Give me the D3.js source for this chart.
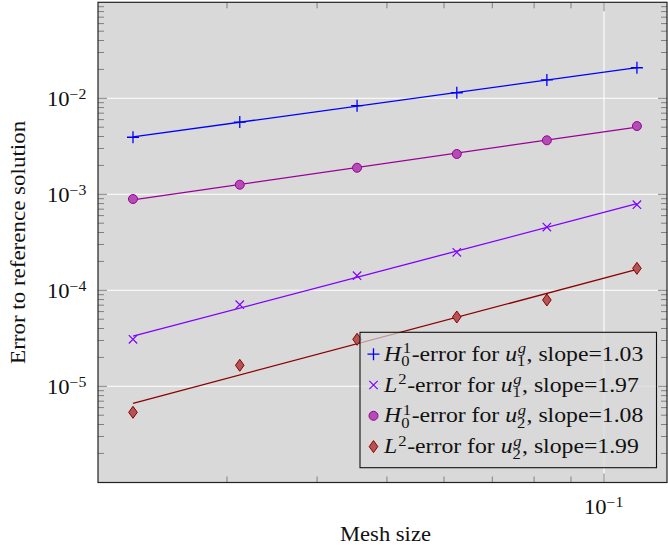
<!DOCTYPE html>
<html><head><meta charset="utf-8">
<script src="https://cdn.jsdelivr.net/npm/d3@7"></script>
<style>
body{margin:0;background:#fff}
text{font-family:"Liberation Serif","Times New Roman",serif;white-space:pre;fill:#111}
</style>
</head><body><svg id="c" width="668" height="552" xmlns="http://www.w3.org/2000/svg"></svg>
<script>
// ---- data ----
const meshSize = [0.02222, 0.03125, 0.04545, 0.0625, 0.08333, 0.1111];
const h1ErrU1 = [3.93e-3, 5.66e-3, 8.38e-3, 1.143e-2, 1.553e-2, 2.08e-2];
const l2ErrU1 = [3.09e-5, 7.08e-5, 1.419e-4, 2.49e-4, 4.56e-4, 7.80e-4];
const h1ErrU2 = [8.93e-4, 1.259e-3, 1.89e-3, 2.63e-3, 3.65e-3, 5.14e-3];
const l2ErrU2 = [5.36e-6, 1.655e-5, 3.09e-5, 5.27e-5, 7.93e-5, 1.694e-4];
const slopeLabels = ["1.03", "1.97", "1.08", "1.99"];
const yTickExps = [-5, -4, -3, -2];
const xTickExps = [-1];
const xLabel = "Mesh size";
const yLabel = "Error to reference solution";

// ---- layout ----
const svg = d3.select("#c");
const L = 98, R = 667, T = 2.3, B = 482.5;
const FS = 20, FSL = 21, SX = 1.13;
const x = d3.scaleLog().domain([0.01987, 0.1223]).range([L, R]);
const y = d3.scaleLog().domain([Math.pow(10, -6.002), Math.pow(10, -1.0)]).range([B, T]);

const series = [
  {vals: h1ErrU1, color: "#0000ff", fill: "none", marker: "plus",
   label: [{t:"H",it:1},{sup:"1",sub:"0",supDx:1.5}], fn: "1"},
  {vals: l2ErrU1, color: "#8000ff", fill: "none", marker: "cross",
   label: [{t:"L",it:1},{sup:"2",supDx:1}], fn: "1"},
  {vals: h1ErrU2, color: "#990099", fill: "#b24db2", marker: "circle",
   label: [{t:"H",it:1},{sup:"1",sub:"0",supDx:1.5}], fn: "2"},
  {vals: l2ErrU2, color: "#8b0000", fill: "#b35555", marker: "diamond",
   label: [{t:"L",it:1},{sup:"2",supDx:1}], fn: "2"}
];

// background
svg.append("rect").attr("x", L).attr("y", T).attr("width", R - L).attr("height", B - T).attr("fill", "#d9d9d9");

// grid
const gGrid = svg.append("g").attr("stroke", "#ffffff").attr("stroke-width", 1.1);
yTickExps.forEach(e => { const v = Math.pow(10, e);
  gGrid.append("line").attr("x1", L).attr("x2", R).attr("y1", y(v)).attr("y2", y(v)); });
xTickExps.forEach(e => { const v = Math.pow(10, e);
  gGrid.append("line").attr("y1", T).attr("y2", B).attr("x1", x(v)).attr("x2", x(v)); });

// ticks
const gT = svg.append("g").attr("stroke", "#808080").attr("stroke-width", 1);
const yd = y.domain(), xd = x.domain();
for (let k = -7; k <= 0; k++) {
  for (let m = 1; m <= 9; m++) {
    const v = m * Math.pow(10, k);
    const len = m === 1 ? 9 : 6;
    const py = y(v);
    if (v > yd[0] && v < yd[1] && py > T + 2 && py < B - 2) {
      gT.append("line").attr("x1", L).attr("x2", L + len).attr("y1", py).attr("y2", py);
      gT.append("line").attr("x1", R).attr("x2", R - len).attr("y1", py).attr("y2", py);
    }
    const px = x(v);
    if (v > xd[0] && v < xd[1] && px > L + 3 && px < R - 3) {
      gT.append("line").attr("y1", B).attr("y2", B - len).attr("x1", px).attr("x2", px);
      gT.append("line").attr("y1", T).attr("y2", T + len).attr("x1", px).attr("x2", px);
    }
  }
}

// regression lines (log-log least squares)
function fit(xs, ys) {
  const lx = xs.map(Math.log10), ly = ys.map(Math.log10);
  const mx = d3.mean(lx), my = d3.mean(ly);
  const s = d3.sum(lx.map((v, i) => (v - mx) * (ly[i] - my))) / d3.sum(lx.map(v => (v - mx) ** 2));
  return v => Math.pow(10, my + s * (Math.log10(v) - mx));
}
const line = d3.line().x(d => x(d[0])).y(d => y(d[1]));
const gLines = svg.append("g");
series.forEach(s => {
  const f = fit(meshSize, s.vals);
  const ends = d3.extent(meshSize);
  gLines.append("path").attr("d", line(ends.map(v => [v, f(v)])))
    .attr("fill", "none").attr("stroke", s.color).attr("stroke-width", 1.3);
});

// markers
function drawMarker(g, type, cx, cy, color, fill) {
  if (type === "plus") {
    g.append("path").attr("d", `M${cx-6},${cy}H${cx+6}M${cx},${cy-6}V${cy+6}`)
      .attr("stroke", color).attr("stroke-width", 1.3).attr("fill", "none");
  } else if (type === "cross") {
    g.append("path").attr("d", `M${cx-4.2},${cy-4.2}L${cx+4.2},${cy+4.2}M${cx-4.2},${cy+4.2}L${cx+4.2},${cy-4.2}`)
      .attr("stroke", color).attr("stroke-width", 1.2).attr("fill", "none");
  } else if (type === "circle") {
    g.append("circle").attr("cx", cx).attr("cy", cy).attr("r", 4.5)
      .attr("stroke", color).attr("stroke-width", 1).attr("fill", fill);
  } else if (type === "diamond") {
    g.append("path").attr("d", `M${cx},${cy-6}L${cx+4.3},${cy}L${cx},${cy+6}L${cx-4.3},${cy}Z`)
      .attr("stroke", color).attr("stroke-width", 1).attr("fill", fill);
  }
}
const gM = svg.append("g");
series.forEach(s => {
  meshSize.forEach((h, i) => drawMarker(gM, s.marker, x(h), y(s.vals[i]), s.color, s.fill));
});

// border
svg.append("rect").attr("x", L).attr("y", T).attr("width", R - L).attr("height", B - T)
  .attr("fill", "none").attr("stroke", "#222").attr("stroke-width", 1.2);

// rich text helper: one <text>, tspans with stacked sup/sub
function rich(g, pieces, x0, yb, size, anchor) {
  const txt = g.append("text").attr("font-size", size);
  let cx = 0;
  const ss = size * 0.7;
  pieces.forEach(p => {
    if (p.t !== undefined) {
      const t = txt.append("tspan").attr("x", cx).attr("y", 0)
        .attr("font-style", p.it ? "italic" : "normal").text(p.t);
      cx += t.node().getComputedTextLength();
    } else {
      let w = 0;
      if (p.sup !== undefined) {
        const dx = p.supDx || 0;
        const t = txt.append("tspan").attr("x", cx + dx).attr("y", -size * 0.36).attr("font-size", ss)
          .attr("font-style", p.supIt ? "italic" : "normal").text(p.sup);
        w = Math.max(w, t.node().getComputedTextLength() + dx);
      }
      if (p.sub !== undefined) {
        const dx = p.subDx || 0;
        const t = txt.append("tspan").attr("x", cx + dx).attr("y", size * 0.26).attr("font-size", ss)
          .attr("font-style", p.subIt ? "italic" : "normal").text(p.sub);
        w = Math.max(w, t.node().getComputedTextLength() + dx);
      }
      cx += w + 0.5;
    }
  });
  const wTot = cx * SX;
  const shift = anchor === "end" ? -wTot : anchor === "middle" ? -wTot / 2 : 0;
  txt.attr("transform", `translate(${x0 + shift},${yb}) scale(${SX},1)`);
  return wTot;
}

// y tick labels
const gL = svg.append("g");
yTickExps.forEach(e => {
  rich(gL, [{t:"10"}, {sup:"\u2212" + Math.abs(e)}], 87, y(Math.pow(10, e)) + 8, FS, "end");
});
xTickExps.forEach(e => {
  rich(gL, [{t:"10"}, {sup:"\u2212" + Math.abs(e)}], x(Math.pow(10, e)), 514, FS, "middle");
});

// axis titles
rich(gL, [{t: xLabel}], (L + R) / 2 + 3, 541, FS, "middle");
svg.append("text").attr("transform", `translate(25,${(T + B) / 2}) rotate(-90)`)
  .attr("text-anchor", "middle").attr("font-size", FS).attr("textLength", 243)
  .attr("lengthAdjust", "spacingAndGlyphs").text(yLabel);

// legend
const lg = svg.append("g");
lg.append("rect").attr("x", 360).attr("y", 332.3).attr("width", 296.5).attr("height", 135.4)
  .attr("fill", "#d9d9d9").attr("fill-opacity", 0.7).attr("stroke", "#111").attr("stroke-width", 1.1);
const rowY = [354.2, 385, 415.8, 446.6];
series.forEach((s, i) => {
  drawMarker(lg, s.marker, 373.5, rowY[i], s.color, s.fill);
  const pieces = s.label.concat([
    {t: "-error for "}, {t: "u", it: 1}, {sup: "g", supIt: 1, sub: s.fn, supDx: 0.5},
    {t: ", slope=" + slopeLabels[i]}
  ]);
  rich(lg, pieces, 384, rowY[i] + 6.5, FSL, "start");
});
</script>
</body></html>
